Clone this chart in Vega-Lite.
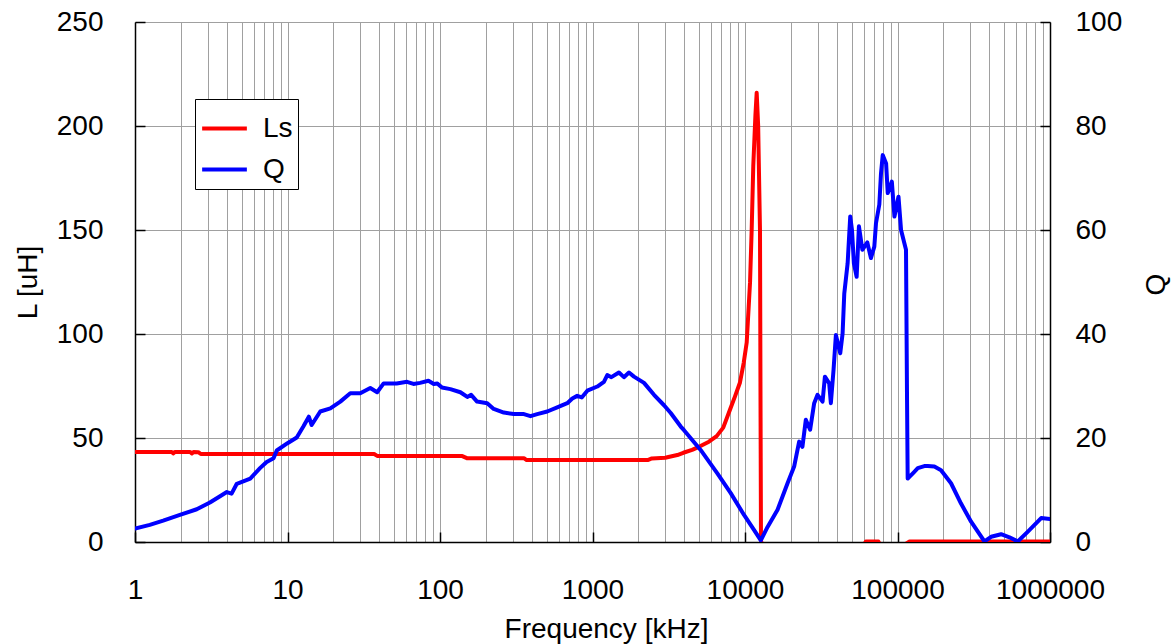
{
  "$schema": "https://vega.github.io/schema/vega-lite/v6.json",
  "width": 915,
  "height": 520,
  "autosize": {"type": "none"},
  "padding": {"left": 135, "top": 22, "right": 124, "bottom": 102},
  "background": "white",
  "config": {
    "font": "Liberation Sans",
    "view": {"stroke": "#a0a0a0"},
    "axis": {
      "labelFont": "Liberation Sans",
      "titleFont": "Liberation Sans",
      "labelFontSize": 28,
      "titleFontSize": 28,
      "labelColor": "black",
      "titleColor": "black",
      "titleFontWeight": "normal",
      "domainColor": "black",
      "domainWidth": 1.5,
      "tickColor": "black",
      "tickWidth": 1.5,
      "gridColor": "#a0a0a0",
      "gridWidth": 1,
      "gridOpacity": 1
    }
  },
  "datasets": {
    "ls": [
      {"f": 1, "L": 43.3, "series": "Ls"},
      {"f": 1.5, "L": 43.3, "series": "Ls"},
      {"f": 1.74, "L": 43.3, "series": "Ls"},
      {"f": 1.78, "L": 42.6, "series": "Ls"},
      {"f": 1.83, "L": 43.3, "series": "Ls"},
      {"f": 2.3, "L": 43.3, "series": "Ls"},
      {"f": 2.36, "L": 42.6, "series": "Ls"},
      {"f": 2.42, "L": 43.3, "series": "Ls"},
      {"f": 2.6, "L": 43.2, "series": "Ls"},
      {"f": 2.7, "L": 42.3, "series": "Ls"},
      {"f": 10, "L": 42.3, "series": "Ls"},
      {"f": 37, "L": 42.3, "series": "Ls"},
      {"f": 39, "L": 41.3, "series": "Ls"},
      {"f": 140, "L": 41.3, "series": "Ls"},
      {"f": 150, "L": 40.3, "series": "Ls"},
      {"f": 355, "L": 40.3, "series": "Ls"},
      {"f": 370, "L": 39.4, "series": "Ls"},
      {"f": 1000, "L": 39.4, "series": "Ls"},
      {"f": 2300, "L": 39.4, "series": "Ls"},
      {"f": 2450, "L": 40.2, "series": "Ls"},
      {"f": 3000, "L": 40.5, "series": "Ls"},
      {"f": 3200, "L": 41.0, "series": "Ls"},
      {"f": 3600, "L": 41.8, "series": "Ls"},
      {"f": 3940, "L": 42.9, "series": "Ls"},
      {"f": 4500, "L": 44.3, "series": "Ls"},
      {"f": 5070, "L": 46.0, "series": "Ls"},
      {"f": 5800, "L": 48.2, "series": "Ls"},
      {"f": 6520, "L": 50.9, "series": "Ls"},
      {"f": 7200, "L": 55.0, "series": "Ls"},
      {"f": 7980, "L": 63.7, "series": "Ls"},
      {"f": 8600, "L": 70.0, "series": "Ls"},
      {"f": 9270, "L": 76.7, "series": "Ls"},
      {"f": 9800, "L": 86.0, "series": "Ls"},
      {"f": 10260, "L": 95.9, "series": "Ls"},
      {"f": 10790, "L": 124.8, "series": "Ls"},
      {"f": 11060, "L": 150.0, "series": "Ls"},
      {"f": 11330, "L": 180.7, "series": "Ls"},
      {"f": 11700, "L": 205.0, "series": "Ls"},
      {"f": 11930, "L": 216.0, "series": "Ls"},
      {"f": 12200, "L": 200.0, "series": "Ls"},
      {"f": 12540, "L": 150.0, "series": "Ls"},
      {"f": 12650, "L": 60.0, "series": "Ls"},
      {"f": 12730, "L": 0.5, "series": "Ls"},
      {"f": 13000, "L": -1.5, "series": "Ls"},
      {"f": 60000, "L": -1.5, "series": "Ls"},
      {"f": 62000, "L": 0.2, "series": "Ls"},
      {"f": 75000, "L": 0.2, "series": "Ls"},
      {"f": 77000, "L": -1.5, "series": "Ls"},
      {"f": 110000, "L": -1.5, "series": "Ls"},
      {"f": 120000, "L": 0.3, "series": "Ls"},
      {"f": 1000000, "L": 0.3, "series": "Ls"}
    ],
    "q": [
      {"f": 1, "Q": 2.6, "series": "Q"},
      {"f": 1.25, "Q": 3.3, "series": "Q"},
      {"f": 1.53, "Q": 4.1, "series": "Q"},
      {"f": 1.97, "Q": 5.2, "series": "Q"},
      {"f": 2.54, "Q": 6.3, "series": "Q"},
      {"f": 3.1, "Q": 7.6, "series": "Q"},
      {"f": 3.7, "Q": 9.0, "series": "Q"},
      {"f": 4.0, "Q": 9.6, "series": "Q"},
      {"f": 4.3, "Q": 9.3, "series": "Q"},
      {"f": 4.65, "Q": 11.2, "series": "Q"},
      {"f": 5.7, "Q": 12.2, "series": "Q"},
      {"f": 6.6, "Q": 14.2, "series": "Q"},
      {"f": 7.3, "Q": 15.4, "series": "Q"},
      {"f": 8.1, "Q": 16.1, "series": "Q"},
      {"f": 8.5, "Q": 17.6, "series": "Q"},
      {"f": 10, "Q": 19.0, "series": "Q"},
      {"f": 11.5, "Q": 20.1, "series": "Q"},
      {"f": 12.7, "Q": 22.2, "series": "Q"},
      {"f": 13.8, "Q": 24.1, "series": "Q"},
      {"f": 14.4, "Q": 22.5, "series": "Q"},
      {"f": 16.4, "Q": 25.1, "series": "Q"},
      {"f": 19.1, "Q": 25.7, "series": "Q"},
      {"f": 22.2, "Q": 27.0, "series": "Q"},
      {"f": 25.8, "Q": 28.6, "series": "Q"},
      {"f": 30, "Q": 28.6, "series": "Q"},
      {"f": 34.9, "Q": 29.6, "series": "Q"},
      {"f": 38.7, "Q": 28.8, "series": "Q"},
      {"f": 42.7, "Q": 30.5, "series": "Q"},
      {"f": 52, "Q": 30.5, "series": "Q"},
      {"f": 60.8, "Q": 30.8, "series": "Q"},
      {"f": 67, "Q": 30.4, "series": "Q"},
      {"f": 74, "Q": 30.6, "series": "Q"},
      {"f": 84, "Q": 31.0, "series": "Q"},
      {"f": 91, "Q": 30.4, "series": "Q"},
      {"f": 96, "Q": 30.5, "series": "Q"},
      {"f": 103, "Q": 29.7, "series": "Q"},
      {"f": 117, "Q": 29.4, "series": "Q"},
      {"f": 136, "Q": 28.8, "series": "Q"},
      {"f": 151, "Q": 27.9, "series": "Q"},
      {"f": 160, "Q": 28.3, "series": "Q"},
      {"f": 175, "Q": 27.0, "series": "Q"},
      {"f": 204, "Q": 26.7, "series": "Q"},
      {"f": 225, "Q": 25.6, "series": "Q"},
      {"f": 262, "Q": 24.9, "series": "Q"},
      {"f": 305, "Q": 24.6, "series": "Q"},
      {"f": 355, "Q": 24.6, "series": "Q"},
      {"f": 392, "Q": 24.2, "series": "Q"},
      {"f": 434, "Q": 24.6, "series": "Q"},
      {"f": 505, "Q": 25.1, "series": "Q"},
      {"f": 587, "Q": 25.9, "series": "Q"},
      {"f": 683, "Q": 26.7, "series": "Q"},
      {"f": 737, "Q": 27.6, "series": "Q"},
      {"f": 794, "Q": 28.1, "series": "Q"},
      {"f": 850, "Q": 27.8, "series": "Q"},
      {"f": 925, "Q": 29.1, "series": "Q"},
      {"f": 1075, "Q": 29.9, "series": "Q"},
      {"f": 1188, "Q": 30.8, "series": "Q"},
      {"f": 1250, "Q": 32.1, "series": "Q"},
      {"f": 1330, "Q": 31.7, "series": "Q"},
      {"f": 1490, "Q": 32.6, "series": "Q"},
      {"f": 1607, "Q": 31.7, "series": "Q"},
      {"f": 1734, "Q": 32.6, "series": "Q"},
      {"f": 1870, "Q": 31.8, "series": "Q"},
      {"f": 2177, "Q": 30.6, "series": "Q"},
      {"f": 2531, "Q": 28.3, "series": "Q"},
      {"f": 2944, "Q": 26.3, "series": "Q"},
      {"f": 3258, "Q": 24.8, "series": "Q"},
      {"f": 3789, "Q": 22.2, "series": "Q"},
      {"f": 3981, "Q": 21.5, "series": "Q"},
      {"f": 5117, "Q": 17.7, "series": "Q"},
      {"f": 6586, "Q": 13.2, "series": "Q"},
      {"f": 8060, "Q": 9.4, "series": "Q"},
      {"f": 9855, "Q": 5.2, "series": "Q"},
      {"f": 11481, "Q": 2.3, "series": "Q"},
      {"f": 12700, "Q": 0.3, "series": "Q"},
      {"f": 14060, "Q": 2.9, "series": "Q"},
      {"f": 16350, "Q": 6.2, "series": "Q"},
      {"f": 19010, "Q": 11.3, "series": "Q"},
      {"f": 21000, "Q": 14.5, "series": "Q"},
      {"f": 22650, "Q": 19.3, "series": "Q"},
      {"f": 23800, "Q": 18.3, "series": "Q"},
      {"f": 25050, "Q": 23.5, "series": "Q"},
      {"f": 26740, "Q": 21.6, "series": "Q"},
      {"f": 28420, "Q": 26.7, "series": "Q"},
      {"f": 29900, "Q": 28.3, "series": "Q"},
      {"f": 32260, "Q": 27.0, "series": "Q"},
      {"f": 33420, "Q": 31.8, "series": "Q"},
      {"f": 35650, "Q": 30.5, "series": "Q"},
      {"f": 36560, "Q": 26.7, "series": "Q"},
      {"f": 38070, "Q": 33.1, "series": "Q"},
      {"f": 39440, "Q": 39.8, "series": "Q"},
      {"f": 42130, "Q": 36.3, "series": "Q"},
      {"f": 43650, "Q": 40.1, "series": "Q"},
      {"f": 44770, "Q": 47.8, "series": "Q"},
      {"f": 47100, "Q": 53.6, "series": "Q"},
      {"f": 48990, "Q": 62.6, "series": "Q"},
      {"f": 50300, "Q": 60.0, "series": "Q"},
      {"f": 51760, "Q": 53.6, "series": "Q"},
      {"f": 53960, "Q": 51.0, "series": "Q"},
      {"f": 55850, "Q": 60.7, "series": "Q"},
      {"f": 58830, "Q": 56.2, "series": "Q"},
      {"f": 63400, "Q": 57.6, "series": "Q"},
      {"f": 66950, "Q": 54.6, "series": "Q"},
      {"f": 70470, "Q": 56.8, "series": "Q"},
      {"f": 72260, "Q": 61.3, "series": "Q"},
      {"f": 76000, "Q": 64.9, "series": "Q"},
      {"f": 77950, "Q": 70.9, "series": "Q"},
      {"f": 80000, "Q": 74.4, "series": "Q"},
      {"f": 84200, "Q": 72.8, "series": "Q"},
      {"f": 86300, "Q": 67.1, "series": "Q"},
      {"f": 91800, "Q": 69.3, "series": "Q"},
      {"f": 95500, "Q": 62.6, "series": "Q"},
      {"f": 101500, "Q": 66.4, "series": "Q"},
      {"f": 105500, "Q": 60.0, "series": "Q"},
      {"f": 113700, "Q": 56.2, "series": "Q"},
      {"f": 115500, "Q": 27.3, "series": "Q"},
      {"f": 116600, "Q": 12.2, "series": "Q"},
      {"f": 128900, "Q": 13.5, "series": "Q"},
      {"f": 135800, "Q": 14.2, "series": "Q"},
      {"f": 150000, "Q": 14.6, "series": "Q"},
      {"f": 157900, "Q": 14.6, "series": "Q"},
      {"f": 174500, "Q": 14.5, "series": "Q"},
      {"f": 193000, "Q": 13.8, "series": "Q"},
      {"f": 224400, "Q": 11.3, "series": "Q"},
      {"f": 261000, "Q": 7.4, "series": "Q"},
      {"f": 303800, "Q": 3.9, "series": "Q"},
      {"f": 371700, "Q": 0.1, "series": "Q"},
      {"f": 411000, "Q": 1.0, "series": "Q"},
      {"f": 478000, "Q": 1.5, "series": "Q"},
      {"f": 542000, "Q": 0.9, "series": "Q"},
      {"f": 615000, "Q": 0.1, "series": "Q"},
      {"f": 716000, "Q": 2.0, "series": "Q"},
      {"f": 875000, "Q": 4.6, "series": "Q"},
      {"f": 1000000, "Q": 4.4, "series": "Q"}
    ]
  },
  "layer": [
    {
      "data": {"name": "ls"},
      "mark": {"type": "line", "clip": true, "strokeWidth": 4, "strokeJoin": "round", "strokeCap": "round"},
      "encoding": {
        "x": {
          "field": "f",
          "type": "quantitative",
          "scale": {"type": "log", "domain": [1, 1000000], "nice": false},
          "axis": {
            "title": "Frequency [kHz]",
            "values": [1,2,3,4,5,6,7,8,9,10,20,30,40,50,60,70,80,90,100,200,300,400,500,600,700,800,900,1000,2000,3000,4000,5000,6000,7000,8000,9000,10000,20000,30000,40000,50000,60000,70000,80000,90000,100000,200000,300000,400000,500000,600000,700000,800000,900000,1000000],
            "labelExpr": "indexof([1,10,100,1000,10000,100000,1000000], datum.value) >= 0 ? format(datum.value, 'd') : ''",
            "labelOverlap": false,
            "labelFlush": false,
            "grid": true,
            "tickSize": -10,
            "tickOpacity": {"condition": {"test": "indexof([1,10,100,1000,10000,100000,1000000], datum.value) >= 0", "value": 1}, "value": 0},
            "labelPadding": 44,
            "titleX": 471,
            "titleY": 95,
            "titleBaseline": "alphabetic",
            "titleAlign": "center"
          }
        },
        "y": {
          "field": "L",
          "type": "quantitative",
          "scale": {"domain": [0, 250], "nice": false},
          "axis": {
            "title": "L [uH]",
            "orient": "left",
            "values": [0, 50, 100, 150, 200, 250],
            "grid": true,
            "tickSize": -10,
            "labelPadding": 42,
            "titleAngle": 270,
            "titleX": -107,
            "titleY": 260,
            "titleBaseline": "middle",
            "titleAlign": "center"
          }
        },
        "color": {
          "field": "series",
          "type": "nominal",
          "scale": {"domain": ["Ls", "Q"], "range": ["#ff0000", "#0000ff"]},
          "legend": {
            "orient": "none",
            "legendX": 60,
            "legendY": 77,
            "title": null,
            "symbolType": "stroke",
            "symbolSize": 2000,
            "symbolStrokeWidth": 4,
            "labelFontSize": 28,
            "labelFont": "Liberation Sans",
            "labelColor": "black",
            "strokeColor": "black",
            "fillColor": "white",
            "padding": 5,
            "rowPadding": 2,
            "labelOffset": 14
          }
        }
      }
    },
    {
      "data": {"name": "q"},
      "mark": {"type": "line", "clip": true, "strokeWidth": 4, "strokeJoin": "round", "strokeCap": "round"},
      "encoding": {
        "x": {"field": "f", "type": "quantitative"},
        "y": {
          "field": "Q",
          "type": "quantitative",
          "scale": {"domain": [0, 100], "nice": false},
          "axis": {
            "title": "Q",
            "orient": "right",
            "values": [0, 20, 40, 60, 80, 100],
            "grid": false,
            "tickSize": -10,
            "labelPadding": 35,
            "titleAngle": 270,
            "titleX": 106,
            "titleY": 262,
            "titleBaseline": "middle",
            "titleAlign": "center"
          }
        },
        "color": {"field": "series", "type": "nominal"}
      }
    }
  ],
  "resolve": {"scale": {"y": "independent"}}
}
